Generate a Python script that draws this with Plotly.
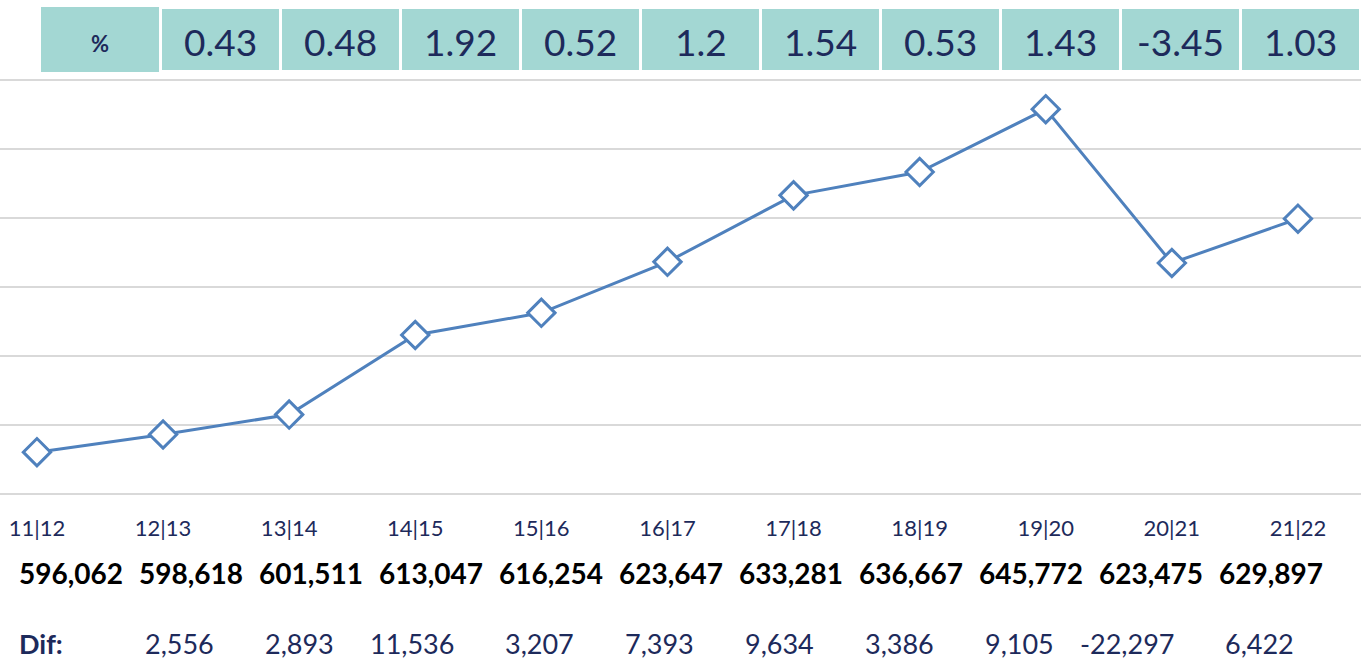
import plotly.graph_objects as go

# ---- data ----
periods = ["11|12", "12|13", "13|14", "14|15", "15|16", "16|17", "17|18", "18|19", "19|20", "20|21", "21|22"]
values = [596062, 598618, 601511, 613047, 616254, 623647, 633281, 636667, 645772, 623475, 629897]
pct_label = "%"
pct_changes = ["0.43", "0.48", "1.92", "0.52", "1.2", "1.54", "0.53", "1.43", "-3.45", "1.03"]
dif_label = "Dif:"
difs = [2556, 2893, 11536, 3207, 7393, 9634, 3386, 9105, -22297, 6422]
grid_values = [590000, 600000, 610000, 620000, 630000, 640000, 650000]

# ---- layout helpers (pixel -> paper) ----
W, H = 1361, 660
PLOT_TOP, PLOT_BOTTOM = 76, 498
def px(x):
    return x / W
def py(y):
    return (PLOT_BOTTOM - y) / (PLOT_BOTTOM - PLOT_TOP)

NAVY = "#1d2a5b"
TEAL = "#a3d7d3"
LINE = "#4f81bd"
FONT = "Lato"

fig = go.Figure()
fig.add_trace(go.Scatter(
    x=list(range(len(values))), y=values, mode="lines+markers",
    line=dict(color=LINE, width=3),
    marker=dict(symbol="diamond", size=21, color="white", line=dict(color=LINE, width=3)),
    hoverinfo="x+y", showlegend=False,
))

shapes = []
annotations = []
# header boxes: "%" label + percentage changes
shapes.append(dict(type="rect", xref="paper", yref="paper",
                   x0=px(41), x1=px(159), y0=py(72), y1=py(7),
                   fillcolor=TEAL, line=dict(width=0), layer="below"))
annotations.append(dict(xref="paper", yref="paper", x=px(100), y=py(43), text=f"<b>{pct_label}</b>",
                        showarrow=False, font=dict(family=FONT, size=22, color=NAVY),
                        xanchor="center", yanchor="middle"))
for i, p in enumerate(pct_changes):
    left = 162 + 120 * i
    shapes.append(dict(type="rect", xref="paper", yref="paper",
                       x0=px(left), x1=px(left + 117), y0=py(70), y1=py(9),
                       fillcolor=TEAL, line=dict(width=0), layer="below"))
    annotations.append(dict(xref="paper", yref="paper", x=px(left + 58.5), y=py(42), text=p,
                            showarrow=False, font=dict(family=FONT, size=37, color=NAVY),
                            xanchor="center", yanchor="middle"))

# value row
for i, v in enumerate(values):
    annotations.append(dict(xref="paper", yref="paper", x=px(71 + 120 * i), y=py(573),
                            text=f"<b>{v:,}</b>", showarrow=False,
                            font=dict(family=FONT, size=28, color="black"),
                            xanchor="center", yanchor="middle"))

# dif row (right-aligned cells)
annotations.append(dict(xref="paper", yref="paper", x=px(41), y=py(643), text=f"<b>{dif_label}</b>",
                        showarrow=False, font=dict(family=FONT, size=27, color=NAVY),
                        xanchor="center", yanchor="middle"))
for i, d in enumerate(difs):
    annotations.append(dict(xref="paper", yref="paper", x=px(216 + 120 * i), y=py(643),
                            text=f"{d:,}", showarrow=False,
                            font=dict(family=FONT, size=27, color=NAVY),
                            xanchor="right", yanchor="middle"))

fig.update_layout(
    width=W, height=H,
    margin=dict(l=0, r=0, t=PLOT_TOP, b=H - PLOT_BOTTOM, pad=0),
    paper_bgcolor="white", plot_bgcolor="white",
    shapes=shapes, annotations=annotations,
    xaxis=dict(range=[-0.293, 10.5], tickmode="array", tickvals=list(range(len(periods))),
               ticktext=periods, showgrid=False, zeroline=False, showline=False,
               ticks="", ticklabelstandoff=15,
               tickfont=dict(family=FONT, size=22, color=NAVY)),
    yaxis=dict(range=[589420, 650580], tickmode="array", tickvals=grid_values,
               showgrid=True, gridcolor="#d9d9d9",
               gridwidth=2, zeroline=False, showticklabels=False, showline=False, ticks=""),
)
fig.write_html("out.html", config={"displayModeBar": False})

# remove default page margin so the figure sits at the window's top-left corner
with open("out.html", encoding="utf-8") as f:
    html = f.read()
html = html.replace("<head>", "<head><style>html,body{margin:0;padding:0;overflow:hidden;}</style>", 1)
with open("out.html", "w", encoding="utf-8") as f:
    f.write(html)
